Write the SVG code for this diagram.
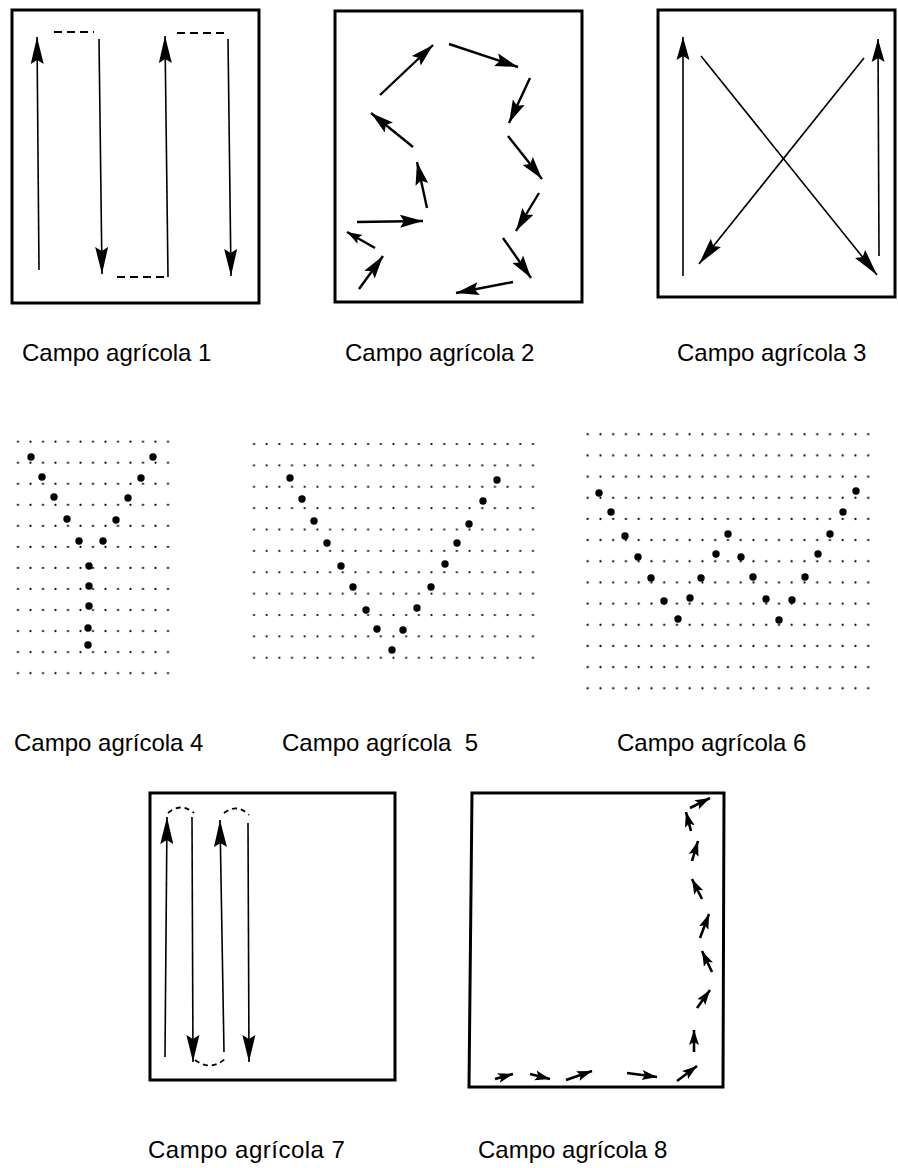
<svg xmlns="http://www.w3.org/2000/svg" width="898" height="1168" viewBox="0 0 898 1168">
<style>
.box{fill:none;stroke:#000;stroke-width:3}
.ln{fill:none;stroke:#000;stroke-width:1.6}
.ln2{fill:none;stroke:#000;stroke-width:2.4}
.ln8{fill:none;stroke:#000;stroke-width:2.6}
.dash{fill:none;stroke:#000;stroke-width:1.8;stroke-dasharray:8 5}
.dash7{fill:none;stroke:#000;stroke-width:1.8;stroke-dasharray:5 4}
.big{fill:#000}
.lbl{font-family:"Liberation Sans",Arial,sans-serif;font-size:24px;fill:#000}
</style>
<defs>
<marker id="mA" markerUnits="userSpaceOnUse" markerWidth="30" markerHeight="16" refX="27" refY="8" orient="auto"><path d="M0,1.5 L27,8 L0,14.5 L4,8 z" fill="#000"/></marker>
<marker id="mB" markerUnits="userSpaceOnUse" markerWidth="27" markerHeight="16" refX="23" refY="8" orient="auto"><path d="M0,1.5 L23,8 L0,14.5 L4,8 z" fill="#000"/></marker>
<marker id="mS" markerUnits="userSpaceOnUse" markerWidth="18" markerHeight="12" refX="15" refY="6" orient="auto"><path d="M0,1 L15,6 L0,11 L3,6 z" fill="#000"/></marker>
<pattern id="p4" patternUnits="userSpaceOnUse" x="11.75" y="431.2" width="12.5" height="21.05"><circle cx="6.25" cy="10.5" r="1.1" fill="#000"/></pattern>
<pattern id="p5" patternUnits="userSpaceOnUse" x="247.66" y="433.3" width="12.68" height="21.37"><circle cx="6.34" cy="10.7" r="1.1" fill="#000"/></pattern>
<pattern id="p6" patternUnits="userSpaceOnUse" x="581.3" y="423.7" width="12.75" height="21.17"><circle cx="6.4" cy="10.6" r="1.1" fill="#000"/></pattern>
</defs>

<g id="campo1">
<rect class="box" x="12" y="10" width="247" height="293"/>
<line class="ln" x1="39" y1="270" x2="37" y2="37" marker-end="url(#mA)"/>
<line class="ln" x1="99" y1="39" x2="102" y2="274" marker-end="url(#mA)"/>
<line class="ln" x1="168" y1="277" x2="165" y2="36" marker-end="url(#mA)"/>
<line class="ln" x1="228" y1="39" x2="231" y2="276" marker-end="url(#mA)"/>
<line class="dash" x1="54" y1="32" x2="94" y2="32"/>
<line class="dash" x1="117" y1="277" x2="167" y2="277"/>
<line class="dash" x1="177" y1="33" x2="227" y2="33"/>
</g>

<g id="campo2">
<rect class="box" x="335" y="11" width="247" height="291"/>
<line class="ln2" x1="380" y1="95" x2="433" y2="45" marker-end="url(#mB)"/>
<line class="ln2" x1="449" y1="44" x2="518" y2="67" marker-end="url(#mB)"/>
<line class="ln2" x1="530" y1="78" x2="509" y2="123" marker-end="url(#mB)"/>
<line class="ln2" x1="413" y1="147" x2="371" y2="113" marker-end="url(#mB)"/>
<line class="ln2" x1="508" y1="136" x2="542" y2="179" marker-end="url(#mB)"/>
<line class="ln2" x1="427" y1="208" x2="417" y2="162" marker-end="url(#mB)"/>
<line class="ln2" x1="357" y1="222" x2="423" y2="221" marker-end="url(#mB)"/>
<line class="ln2" x1="539" y1="193" x2="516" y2="231" marker-end="url(#mB)"/>
<line class="ln2" x1="375" y1="248" x2="347" y2="232" marker-end="url(#mS)"/>
<line class="ln2" x1="359" y1="289" x2="383" y2="256" marker-end="url(#mB)"/>
<line class="ln2" x1="503" y1="238" x2="531" y2="278" marker-end="url(#mB)"/>
<line class="ln2" x1="513" y1="282" x2="456" y2="293" marker-end="url(#mB)"/>
</g>

<g id="campo3">
<rect class="box" x="658" y="10" width="237" height="287"/>
<line class="ln" x1="683" y1="276" x2="683" y2="37" marker-end="url(#mB)"/>
<line class="ln" x1="701" y1="56" x2="877" y2="275" marker-end="url(#mA)"/>
<line class="ln" x1="864" y1="58" x2="699" y2="264" marker-end="url(#mA)"/>
<line class="ln" x1="879" y1="256" x2="878" y2="39" marker-end="url(#mB)"/>
</g>

<g id="labels-row1">
<text class="lbl" x="22" y="361">Campo agrícola 1</text>
<text class="lbl" x="345" y="361">Campo agrícola 2</text>
<text class="lbl" x="677" y="361">Campo agrícola 3</text>
</g>

<g id="campo4">
<rect x="12" y="431" width="162" height="253" fill="url(#p4)"/>
<circle class="big" cx="31" cy="457" r="3.7"/><circle class="big" cx="153" cy="457" r="3.7"/>
<circle class="big" cx="42" cy="477" r="3.7"/><circle class="big" cx="141" cy="478" r="3.7"/>
<circle class="big" cx="54" cy="497" r="3.7"/><circle class="big" cx="128" cy="498" r="3.7"/>
<circle class="big" cx="67" cy="519" r="3.7"/><circle class="big" cx="116" cy="520" r="3.7"/>
<circle class="big" cx="79" cy="541" r="3.7"/><circle class="big" cx="103" cy="541" r="3.7"/>
<circle class="big" cx="89" cy="566" r="3.7"/>
<circle class="big" cx="89" cy="586" r="3.7"/>
<circle class="big" cx="89" cy="606" r="3.7"/>
<circle class="big" cx="88" cy="628" r="3.7"/>
<circle class="big" cx="88" cy="645" r="3.7"/>
</g>

<g id="campo5">
<rect x="248" y="433" width="292" height="235" fill="url(#p5)"/>
<circle class="big" cx="290" cy="478" r="3.7"/>
<circle class="big" cx="302" cy="499" r="3.7"/>
<circle class="big" cx="314" cy="521" r="3.7"/>
<circle class="big" cx="327" cy="543" r="3.7"/>
<circle class="big" cx="341" cy="566" r="3.7"/>
<circle class="big" cx="353" cy="587" r="3.7"/>
<circle class="big" cx="366" cy="610" r="3.7"/>
<circle class="big" cx="377" cy="629" r="3.7"/>
<circle class="big" cx="392" cy="650" r="3.7"/>
<circle class="big" cx="403" cy="630" r="3.7"/>
<circle class="big" cx="417" cy="608" r="3.7"/>
<circle class="big" cx="431" cy="587" r="3.7"/>
<circle class="big" cx="445" cy="564" r="3.7"/>
<circle class="big" cx="457" cy="543" r="3.7"/>
<circle class="big" cx="469" cy="524" r="3.7"/>
<circle class="big" cx="483" cy="501" r="3.7"/>
<circle class="big" cx="497" cy="480" r="3.7"/>
</g>

<g id="campo6">
<rect x="581" y="424" width="294" height="275" fill="url(#p6)"/>
<circle class="big" cx="599" cy="493" r="3.7"/>
<circle class="big" cx="611" cy="512" r="3.7"/>
<circle class="big" cx="625" cy="536" r="3.7"/>
<circle class="big" cx="638" cy="557" r="3.7"/>
<circle class="big" cx="651" cy="578" r="3.7"/>
<circle class="big" cx="664" cy="601" r="3.7"/>
<circle class="big" cx="678" cy="619" r="3.7"/>
<circle class="big" cx="690" cy="598" r="3.7"/>
<circle class="big" cx="701" cy="578" r="3.7"/>
<circle class="big" cx="716" cy="554" r="3.7"/>
<circle class="big" cx="728" cy="534" r="3.7"/>
<circle class="big" cx="741" cy="557" r="3.7"/>
<circle class="big" cx="753" cy="577" r="3.7"/>
<circle class="big" cx="766" cy="599" r="3.7"/>
<circle class="big" cx="779" cy="620" r="3.7"/>
<circle class="big" cx="792" cy="600" r="3.7"/>
<circle class="big" cx="805" cy="577" r="3.7"/>
<circle class="big" cx="818" cy="554" r="3.7"/>
<circle class="big" cx="830" cy="534" r="3.7"/>
<circle class="big" cx="843" cy="512" r="3.7"/>
<circle class="big" cx="856" cy="491" r="3.7"/>
</g>

<g id="labels-row2">
<text class="lbl" x="14" y="751">Campo agrícola 4</text>
<text class="lbl" x="282" y="751" xml:space="preserve">Campo agrícola  5</text>
<text class="lbl" x="617" y="751">Campo agrícola 6</text>
</g>

<g id="campo7">
<rect class="box" x="150" y="793" width="245" height="287"/>
<line class="ln" x1="165" y1="1057" x2="167" y2="817" marker-end="url(#mA)"/>
<line class="ln" x1="192" y1="817" x2="193" y2="1062" marker-end="url(#mA)"/>
<line class="ln" x1="224" y1="1052" x2="220" y2="820" marker-end="url(#mA)"/>
<line class="ln" x1="248" y1="823" x2="249" y2="1062" marker-end="url(#mA)"/>
<path class="dash7" d="M168,813 Q181,802 194,813"/>
<path class="dash7" d="M224,813 Q237,803 249,815"/>
<path class="dash7" d="M195,1060 Q211,1072 226,1058"/>
</g>

<g id="campo8">
<path class="box" d="M472,793 L724,793 L723,1087 L469,1087 Z"/>
<line class="ln8" x1="690" y1="808" x2="710" y2="798" marker-end="url(#mS)"/>
<line class="ln8" x1="691" y1="831" x2="686" y2="812" marker-end="url(#mS)"/>
<line class="ln8" x1="692" y1="861" x2="698" y2="841" marker-end="url(#mS)"/>
<line class="ln8" x1="702" y1="899" x2="692" y2="879" marker-end="url(#mS)"/>
<line class="ln8" x1="700" y1="938" x2="709" y2="914" marker-end="url(#mS)"/>
<line class="ln8" x1="712" y1="972" x2="702" y2="951" marker-end="url(#mS)"/>
<line class="ln8" x1="697" y1="1008" x2="710" y2="990" marker-end="url(#mS)"/>
<line class="ln8" x1="694" y1="1052" x2="694" y2="1030" marker-end="url(#mS)"/>
<line class="ln8" x1="677" y1="1081" x2="697" y2="1066" marker-end="url(#mS)"/>
<line class="ln8" x1="495" y1="1079" x2="513" y2="1074" marker-end="url(#mS)"/>
<line class="ln8" x1="530" y1="1074" x2="550" y2="1079" marker-end="url(#mS)"/>
<line class="ln8" x1="566" y1="1080" x2="592" y2="1071" marker-end="url(#mS)"/>
<line class="ln8" x1="627" y1="1073" x2="657" y2="1077" marker-end="url(#mS)"/>
</g>

<g id="labels-row3">
<text class="lbl" x="148" y="1158" letter-spacing="0.5">Campo agrícola 7</text>
<text class="lbl" x="478" y="1158">Campo agrícola 8</text>
</g>
</svg>
